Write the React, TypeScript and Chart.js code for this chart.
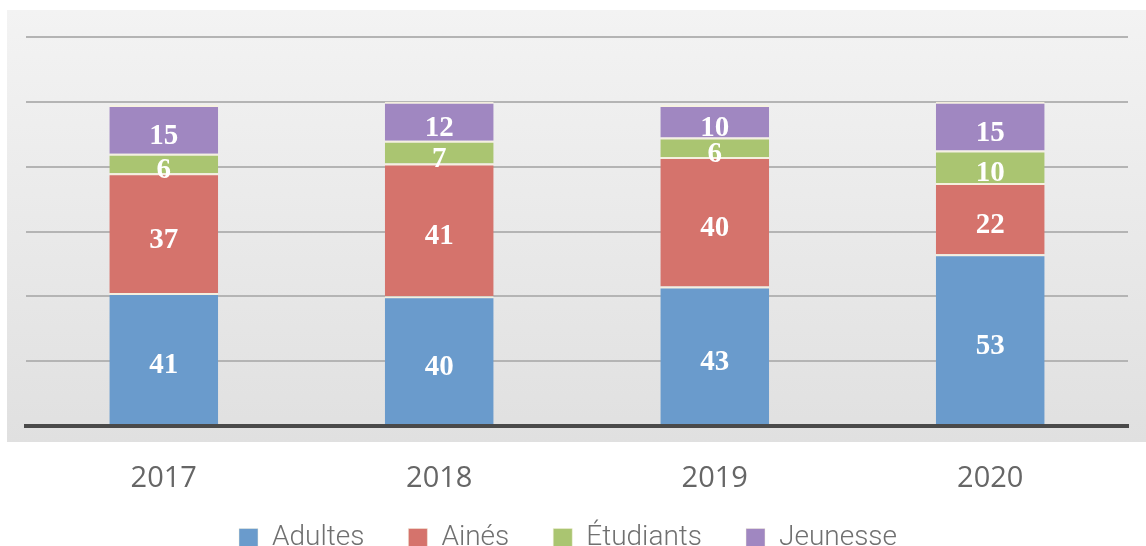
import React, { useEffect, useRef } from "react";
import { Chart, registerables } from "chart.js";

Chart.register(...registerables);

const categories = ["2017", "2018", "2019", "2020"];
const seriesNames = ["Adultes", "Ainés", "Étudiants", "Jeunesse"];
const adultes = [41, 40, 43, 53];
const aines = [37, 41, 40, 22];
const etudiants = [6, 7, 6, 10];
const jeunesse = [15, 12, 10, 15];
const yTickValues = [0, 20, 40, 60, 80, 100, 120];

const colors = ["#6a9bcc", "#d5736c", "#aac571", "#a087c1"];

const panelPlugin = {
  id: "panelBg",
  beforeDraw(chart: any) {
    const { ctx, chartArea } = chart;
    if (!chartArea) return;
    const x0 = chartArea.left - 19;
    const y0 = chartArea.top - 27;
    const x1 = chartArea.right + 18;
    const y1 = chartArea.bottom + 16;
    const g = ctx.createLinearGradient(0, y0, 0, y1);
    g.addColorStop(0, "#f3f3f3");
    g.addColorStop(1, "#e0e0e0");
    ctx.save();
    ctx.fillStyle = g;
    ctx.fillRect(x0, y0, x1 - x0, y1 - y0);
    ctx.restore();
  },
};

const legendShiftPlugin = {
  id: "legendShift",
  afterLayout(chart: any) {
    const lg = chart.legend;
    if (lg) {
      lg.top -= 19;
      lg.bottom -= 19;
      lg.left -= 9;
      lg.right -= 9;
    }
  },
};

const labelPlugin = {
  id: "segLabels",
  afterDatasetsDraw(chart: any) {
    const { ctx } = chart;
    ctx.save();
    ctx.fillStyle = "#ffffff";
    ctx.font = "bold 29px 'Liberation Serif', 'DejaVu Serif', serif";
    ctx.textAlign = "center";
    ctx.textBaseline = "middle";
    chart.data.datasets.forEach((ds: any, di: number) => {
      const meta = chart.getDatasetMeta(di);
      meta.data.forEach((bar: any, i: number) => {
        const v = ds.data[i];
        const cy = (bar.y + bar.base) / 2 + 7;
        ctx.fillText(String(v), bar.x, cy);
      });
    });
    ctx.restore();
  },
};

export default function App() {
  const ref = useRef<HTMLCanvasElement | null>(null);
  useEffect(() => {
    if (!ref.current) return;
    const data = [adultes, aines, etudiants, jeunesse];
    const chart = new Chart(ref.current, {
      type: "bar",
      data: {
        labels: categories,
        datasets: seriesNames.map((name, k) => ({
          label: name,
          data: data[k],
          backgroundColor: colors[k],
          borderColor: "rgba(245,240,222,0.95)",
          borderWidth: { top: 2, left: 0, right: 0, bottom: 0 },
          borderSkipped: false,
          categoryPercentage: 1,
          barPercentage: 0.395,
        })),
      },
      options: {
        animation: false,
        responsive: false,
        layout: { padding: { top: 37, left: 26, right: 18, bottom: -35 } },
        scales: {
          x: {
            stacked: true,
            grid: { display: false, drawTicks: false },
            border: { display: true, color: "#4a4a4a", width: 4 },
            ticks: {
              color: "#666666",
              padding: 35,
              font: { family: "'Open Sans', 'Noto Sans', sans-serif", size: 29 },
            },
            afterFit: (scale: any) => {
              scale.height = 73;
            },
          },
          y: {
            stacked: true,
            min: 0,
            max: 120,
            afterBuildTicks: (scale: any) => {
              scale.ticks = yTickValues.map((v) => ({ value: v }));
            },
            ticks: { display: false },
            border: { display: false },
            grid: {
              drawTicks: false,
              color: (c: any) => (c.tick && c.tick.value === 0 ? "#4a4a4a" : "#b4b4b4"),
              lineWidth: (c: any) => (c.tick && c.tick.value === 0 ? 4 : 2),
            },
          },
        },
        plugins: {
          legend: {
            position: "bottom",
            labels: {
              boxWidth: 19,
              boxHeight: 19,
              padding: 44,
              color: "#707070",
              font: { family: "Roboto, 'Open Sans', sans-serif", size: 28, weight: "300" },
            },
          },
          tooltip: { enabled: false },
        },
      },
      plugins: [panelPlugin, labelPlugin, legendShiftPlugin],
    });
    return () => chart.destroy();
  }, []);
  return (
    <div style={{ position: "absolute", left: 0, top: 0, width: 1146, height: 546, background: "#ffffff" }}>
      <canvas ref={ref} width={1146} height={546} style={{ display: "block" }} />
    </div>
  );
}
